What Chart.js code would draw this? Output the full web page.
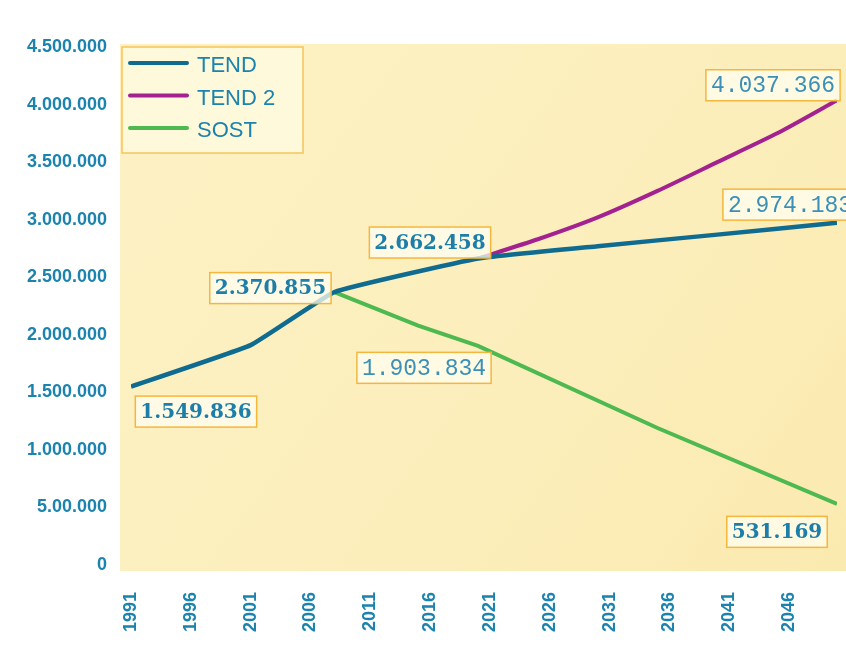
<!DOCTYPE html>
<html>
<head>
<meta charset="utf-8">
<script src="https://cdn.jsdelivr.net/npm/chart.js@4.4.1/dist/chart.umd.min.js"></script>
<style>
  html, body { margin: 0; padding: 0; background: #ffffff; }
  #wrap { width: 846px; height: 653px; position: relative; }
</style>
</head>
<body>
<div id="wrap"><canvas id="popChart"></canvas></div>
<script>
// data
const tendYears = [1991, 2001, 2008, 2020, 2030, 2040, 2050];
const tendValues = [1549836, 1910000, 2370855, 2662458, 2770000, 2870000, 2974183];

const tend2Years = [2020, 2025, 2030, 2035, 2040, 2045, 2050];
const tend2Values = [2662458, 2830000, 3020000, 3250000, 3500000, 3750000, 4037366];

const sostYears = [2008, 2015, 2020, 2035, 2050];
const sostValues = [2370855, 2080000, 1903834, 1190000, 531169];

const xTickYears = [1991, 1996, 2001, 2006, 2011, 2016, 2021, 2026, 2031, 2036, 2041, 2046];
const yTickLabels = ['0', '5.00.000', '1.000.000', '1.500.000', '2.000.000', '2.500.000',
                     '3.000.000', '3.500.000', '4.000.000', '4.500.000'];

const TEXT_BLUE = '#1b83ad';

function toPoints(xs, ys) {
    return xs.map((x, i) => ({ x: x, y: ys[i] }));
}

function fmt(n) {
    return String(n).replace(/\B(?=(\d{3})+(?!\d))/g, '.');
}

// which points get a value box, and where the box sits relative to the point
const valueBoxes = [
    { ds: 0, idx: 0, dx: 65, dy: 25, mono: false },
    { ds: 0, idx: 2, dx: -64, dy: -4, mono: false },
    { ds: 0, idx: 3, dx: -48, dy: -16, mono: false },
    { ds: 2, idx: 2, dx: -54, dy: 22, mono: true },
    { ds: 1, idx: 6, dx: -64, dy: -15, mono: true },
    { ds: 0, idx: 6, dx: -47, dy: -18, mono: true },
    { ds: 2, idx: 4, dx: -60, dy: 28, mono: false }
];

const backdropPlugin = {
    id: 'backdrop',
    beforeDraw(chart) {
        const { ctx, chartArea } = chart;
        ctx.save();
        const g = ctx.createLinearGradient(chartArea.left, chartArea.top, chartArea.right, chartArea.bottom);
        g.addColorStop(0, '#fdf1c4');
        g.addColorStop(0.5, '#fcefbd');
        g.addColorStop(1, '#fbeab0');
        ctx.fillStyle = g;
        ctx.fillRect(chartArea.left - 11, chartArea.top - 3, chartArea.right - chartArea.left + 25, chartArea.bottom - chartArea.top + 9);
        ctx.restore();
    }
};

const boxesPlugin = {
    id: 'valueBoxes',
    afterDatasetsDraw(chart) {
        const { ctx } = chart;
        ctx.save();
        valueBoxes.forEach(b => {
            const el = chart.getDatasetMeta(b.ds).data[b.idx];
            const val = chart.data.datasets[b.ds].data[b.idx].y;
            const text = fmt(val);
            ctx.font = b.mono ? '23px "Liberation Mono", monospace' : 'bold 20px "DejaVu Serif", serif';
            const w = ctx.measureText(text).width + 10;
            const h = 31;
            const cx = el.x + b.dx, cy = el.y + b.dy;
            ctx.fillStyle = 'rgba(255, 253, 242, 0.75)';
            ctx.fillRect(cx - w / 2, cy - h / 2, w, h);
            ctx.strokeStyle = '#f4b73e';
            ctx.lineWidth = 1.5;
            ctx.strokeRect(cx - w / 2, cy - h / 2, w, h);
            ctx.fillStyle = b.mono ? '#3b90b8' : '#1d7fa9';
            ctx.textAlign = 'center';
            ctx.textBaseline = 'middle';
            ctx.fillText(text, cx, cy + 1);
        });
        ctx.restore();
    }
};

const legendPlugin = {
    id: 'boxLegend',
    afterDraw(chart) {
        const { ctx, chartArea } = chart;
        const x0 = chartArea.left - 9, y0 = chartArea.top;
        ctx.save();
        ctx.fillStyle = 'rgba(255, 250, 225, 0.85)';
        ctx.fillRect(x0, y0, 181, 106);
        ctx.strokeStyle = '#f6c45a';
        ctx.lineWidth = 1.5;
        ctx.strokeRect(x0, y0, 181, 106);
        ctx.font = '22px "Liberation Sans", Arial, sans-serif';
        ctx.textBaseline = 'middle';
        chart.data.datasets.forEach((ds, i) => {
            const ly = y0 + 16 + i * 32.5;
            ctx.strokeStyle = ds.borderColor;
            ctx.lineWidth = 4;
            ctx.lineCap = 'round';
            ctx.beginPath();
            ctx.moveTo(x0 + 8, ly);
            ctx.lineTo(x0 + 65, ly);
            ctx.stroke();
            ctx.fillStyle = TEXT_BLUE;
            ctx.fillText(ds.label, x0 + 75, ly + 3);
        });
        ctx.restore();
    }
};

function renderChart() {
    const ctx = document.getElementById('popChart').getContext('2d');
    new Chart(ctx, {
        type: 'line',
        data: {
            datasets: [
                {
                    label: 'TEND',
                    data: toPoints(tendYears, tendValues),
                    borderColor: '#0f6b90',
                    borderWidth: 4.5,
                    pointRadius: 0,
                    tension: 0.1
                },
                {
                    label: 'TEND 2',
                    data: toPoints(tend2Years, tend2Values),
                    borderColor: '#a3228f',
                    borderWidth: 4,
                    pointRadius: 0,
                    tension: 0.2
                },
                {
                    label: 'SOST',
                    data: toPoints(sostYears, sostValues),
                    borderColor: '#4db950',
                    borderWidth: 4,
                    pointRadius: 0,
                    tension: 0
                }
            ]
        },
        options: {
            responsive: true,
            maintainAspectRatio: false,
            animation: false,
            layout: { padding: { top: 47, right: 9, left: 0, bottom: 0 } },
            plugins: {
                legend: { display: false },
                tooltip: { enabled: false }
            },
            scales: {
                x: {
                    type: 'linear',
                    min: 1991,
                    max: 2050,
                    afterBuildTicks(scale) {
                        scale.ticks = xTickYears.map(v => ({ value: v }));
                    },
                    afterFit(scale) { scale.height = 88; },
                    grid: { display: false, drawTicks: false },
                    border: { display: false },
                    ticks: {
                        minRotation: 90,
                        maxRotation: 90,
                        padding: 27,
                        color: TEXT_BLUE,
                        font: { family: '"Liberation Sans", Arial, sans-serif', size: 18, weight: 'bold' },
                        callback: v => String(v)
                    }
                },
                y: {
                    min: 0,
                    max: 4500000,
                    afterBuildTicks(scale) {
                        scale.ticks = yTickLabels.map((t, i) => ({ value: i * 500000 }));
                    },
                    afterFit(scale) { scale.width = 131; },
                    grid: { display: false, drawTicks: false },
                    border: { display: false },
                    ticks: {
                        padding: 24,
                        color: TEXT_BLUE,
                        font: { family: '"Liberation Sans", Arial, sans-serif', size: 18, weight: 'bold' },
                        callback: (v) => yTickLabels[Math.round(v / 500000)]
                    }
                }
            }
        },
        plugins: [backdropPlugin, boxesPlugin, legendPlugin]
    });
}

document.addEventListener('DOMContentLoaded', () => {
    renderChart();
});
</script>
</body>
</html>
